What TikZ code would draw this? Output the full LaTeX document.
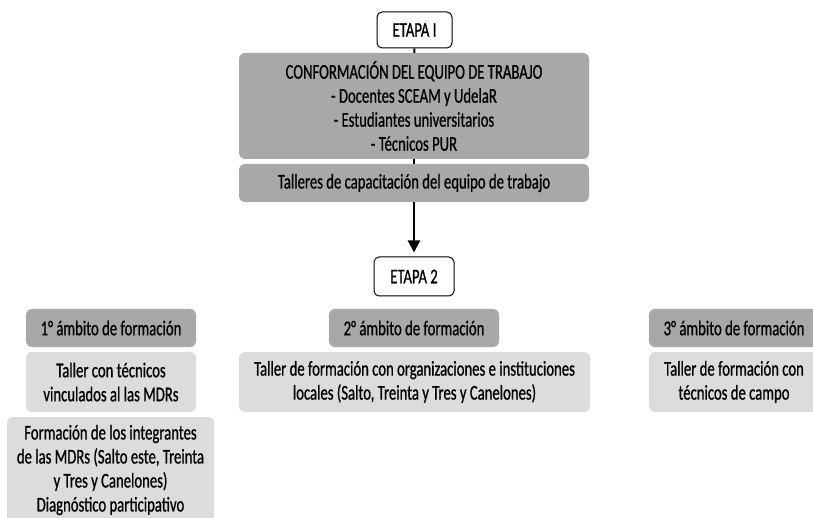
\documentclass[tikz,border=0pt]{standalone}
\usepackage{fontspec}
\setmainfont{Carlito}[FakeStretch=0.7, FakeBold=0.8]
\usetikzlibrary{arrows.meta}
\definecolor{darkbox}{RGB}{168,168,168}
\definecolor{lightbox}{RGB}{220,220,220}
\tikzset{
  etapa/.style={draw=black, line width=1pt, fill=white, rounded corners=5pt, align=center, inner sep=0pt},
  darkb/.style={fill=darkbox, rounded corners=6pt, align=center, inner sep=0pt},
  lightb/.style={fill=lightbox, rounded corners=6pt, align=center, inner sep=0pt},
  flow/.style={line width=2.2pt, draw=black},
}
\begin{document}
\begin{tikzpicture}[x=1pt,y=1pt, font=\fontsize{21}{24}\selectfont]
\useasboundingbox (0,0) rectangle (813,-518);
\node[etapa, minimum width=75pt, minimum height=36pt] (e1) at (414.5,-30) {ETAPA I};
\node[darkb, minimum width=350pt, minimum height=106pt] (conf) at (414,-106) {CONFORMACIÓN DEL EQUIPO DE TRABAJO\\- Docentes SCEAM y UdelaR\\- Estudiantes universitarios\\- Técnicos PUR};
\node[darkb, minimum width=350pt, minimum height=38pt] (tall) at (414,-183) {Talleres de capacitación del equipo de trabajo};
\node[etapa, minimum width=80pt, minimum height=39pt] (e2) at (414,-276.5) {ETAPA 2};

\node[darkb, minimum width=170pt, minimum height=38pt] (a1) at (111,-328) {1° ámbito de formación};
\node[lightb, minimum width=170pt, minimum height=60pt] (t1) at (111,-382) {Taller con técnicos\\vinculados al las MDRs};
\node[lightb, minimum width=207pt, minimum height=106pt] (f1) at (110.5,-470) {Formación de los integrantes\\de las MDRs (Salto este, Treinta\\y Tres y Canelones)\\Diagnóstico participativo};

\node[darkb, minimum width=170pt, minimum height=38pt] (a2) at (414,-328) {2° ámbito de formación};
\node[lightb, minimum width=351pt, minimum height=60pt] (t2) at (414.5,-382) {Taller de formación con organizaciones e instituciones\\locales (Salto, Treinta y Tres y Canelones)};

\node[darkb, minimum width=170pt, minimum height=38pt] (a3) at (734,-328) {3° ámbito de formación};
\node[lightb, minimum width=170pt, minimum height=60pt] (t3) at (734,-382) {Taller de formación con\\técnicos de campo};

\draw[flow] (e1) -- (conf);
\draw[flow] (conf) -- (tall);
\draw[flow, -{Triangle[length=12pt,width=12pt]}, shorten >=4pt] (tall) -- (e2);
\end{tikzpicture}
\end{document}
